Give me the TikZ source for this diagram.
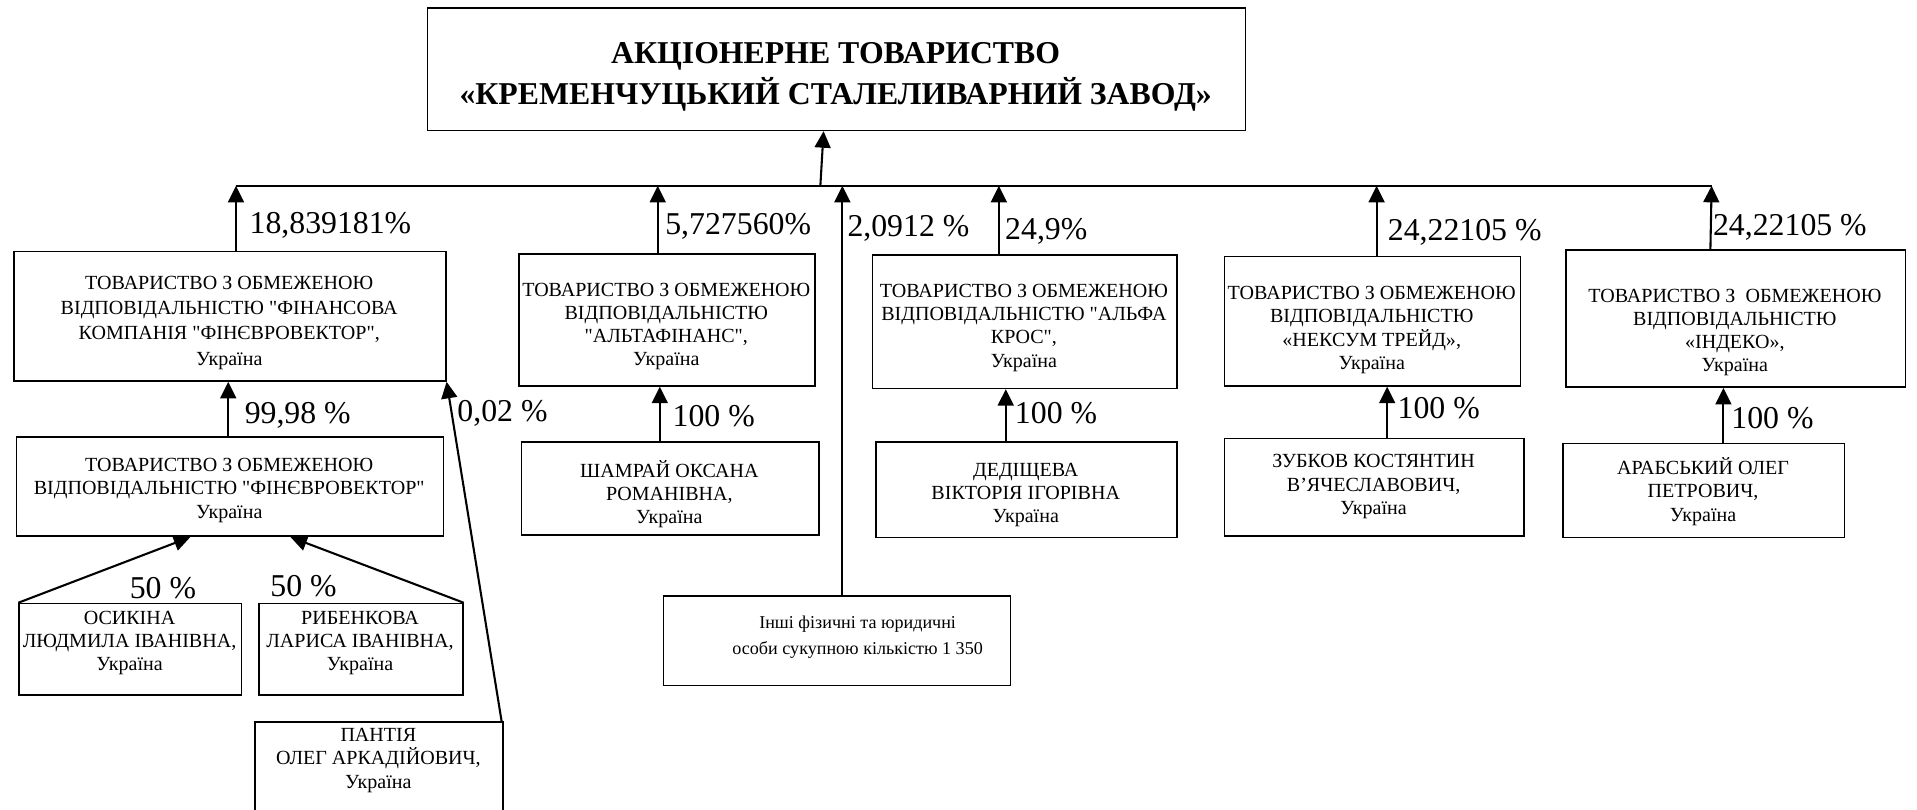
\documentclass[tikz,border=0pt]{standalone}
\usepackage{fontspec}
\setmainfont{Liberation Serif}[Ligatures=TeXOff]
\usetikzlibrary{arrows.meta}
\tikzset{
  box/.style={draw=black, line width=1.3pt, inner sep=0pt, anchor=north west},
  txt/.style={inner sep=0pt, align=center, font=\fontsize{16.4}{19}\selectfont},
  pct/.style={inner sep=0pt, anchor=base west, font=\fontsize{26}{28}\selectfont},
  arr/.style={draw=black, line width=1.7pt, -{Triangle[length=13.5pt,width=13pt]}},
  bus/.style={draw=black, line width=1.4pt}
}
\begin{document}
\begin{tikzpicture}[x=1pt,y=-1pt]
\clip (0,0) rectangle (1568,662);
% boxes
\node[box, minimum width=669pt, minimum height=100pt] (top) at (349,6) {};
\node[inner sep=0pt, align=center, font=\bfseries\fontsize{26}{33}\selectfont] (topt) at (683.5,63) {АКЦІОНЕРНЕ ТОВАРИСТВО\\«КРЕМЕНЧУЦЬКИЙ СТАЛЕЛИВАРНИЙ ЗАВОД»};

\node[box, minimum width=353pt, minimum height=106pt] (b1) at (11,205) {};
\node[txt, font=\fontsize{16.4}{20.7}\selectfont] (b1t) at (187.5,264) {ТОВАРИСТВО З ОБМЕЖЕНОЮ\\ВІДПОВІДАЛЬНІСТЮ "ФІНАНСОВА\\КОМПАНІЯ "ФІНЄВРОВЕКТОР",\\Україна};

\node[box, minimum width=242pt, minimum height=108pt] (b2) at (424,207) {};
\node[txt] (b2t) at (545,267) {ТОВАРИСТВО З ОБМЕЖЕНОЮ\\ВІДПОВІДАЛЬНІСТЮ\\"АЛЬТАФІНАНС",\\Україна};

\node[box, minimum width=249pt, minimum height=109pt] (b3) at (713,208) {};
\node[txt] (b3t) at (837.5,268) {ТОВАРИСТВО З ОБМЕЖЕНОЮ\\ВІДПОВІДАЛЬНІСТЮ "АЛЬФА\\КРОС",\\Україна};

\node[box, minimum width=242pt, minimum height=106pt] (b4) at (1001,209) {};
\node[txt] (b4t) at (1122,270) {ТОВАРИСТВО З ОБМЕЖЕНОЮ\\ВІДПОВІДАЛЬНІСТЮ\\«НЕКСУМ ТРЕЙД»,\\Україна};

\node[box, minimum width=278pt, minimum height=112pt] (b5) at (1280,204) {};
\node[txt] (b5t) at (1419,272) {ТОВАРИСТВО З \ ОБМЕЖЕНОЮ\\ВІДПОВІДАЛЬНІСТЮ\\«ІНДЕКО»,\\Україна};

\node[box, minimum width=349pt, minimum height=81pt] (c1) at (13,357) {};
\node[txt] (c1t) at (187.5,401) {ТОВАРИСТВО З ОБМЕЖЕНОЮ\\ВІДПОВІДАЛЬНІСТЮ "ФІНЄВРОВЕКТОР"\\Україна};

\node[box, minimum width=243pt, minimum height=76pt] (c2) at (426,361) {};
\node[txt] (c2t) at (547.5,404) {ШАМРАЙ ОКСАНА\\РОМАНІВНА,\\Україна};

\node[box, minimum width=246pt, minimum height=78pt] (c3) at (716,361) {};
\node[txt] (c3t) at (839,405) {ДЕДІЩЕВА\\ВІКТОРІЯ ІГОРІВНА\\Україна};

\node[box, minimum width=245pt, minimum height=80pt] (c4) at (1001,358) {};
\node[txt] (c4t) at (1123.5,398) {ЗУБКОВ КОСТЯНТИН\\В’ЯЧЕСЛАВОВИЧ,\\Україна};

\node[box, minimum width=230pt, minimum height=77pt] (c5) at (1278,362) {};
\node[txt] (c5t) at (1393,402) {АРАБСЬКИЙ ОЛЕГ\\ПЕТРОВИЧ,\\Україна};

\node[box, minimum width=182pt, minimum height=75pt] (os) at (15,493) {};
\node[txt] (ost) at (106,526) {ОСИКІНА\\ЛЮДМИЛА ІВАНІВНА,\\Україна};

\node[box, minimum width=167pt, minimum height=75pt] (ryb) at (211,493) {};
\node[txt] (rybt) at (294.5,526) {РИБЕНКОВА\\ЛАРИСА ІВАНІВНА,\\Україна};

\node[box, minimum width=203pt, minimum height=85pt] (pan) at (208,590) {};
\node[txt] (pant) at (309.5,622) {ПАНТІЯ\\ОЛЕГ АРКАДІЙОВИЧ,\\Україна};

\node[box, minimum width=284pt, minimum height=73pt] (oth) at (542,487) {};
\node[txt, font=\fontsize{14.8}{21}\selectfont] (otht) at (701.5,521) {Інші фізичні та юридичні\\особи сукупною кількістю 1 350};

% bus
\coordinate (jt) at (671,152);
\coordinate (j1) at (193,152);
\coordinate (j2) at (538,152);
\coordinate (j3) at (689,152);
\coordinate (j4) at (817,152);
\coordinate (j5) at (1126,152);
\coordinate (j6) at (1400,152);
\draw[bus] (j1) -- (j6);
\draw[arr] (jt) -- ([xshift=-10.5pt]top.south);
\draw[arr] (j1 |- b1.north) -- (j1);
\draw[arr] (j2 |- b2.north) -- (j2);
\draw[arr] (j3 |- oth.north) -- (j3);
\draw[arr] (j4 |- b3.north) -- (j4);
\draw[arr] (j5 |- b4.north) -- (j5);
\draw[arr] ([xshift=-1pt]j6 |- b5.north) -- (j6);

% second level
\draw[arr] ([xshift=-1.5pt]c1.north) -- ([xshift=-1.5pt]c1.north |- b1.south);
\draw[arr] ([xshift=-8.5pt]c2.north) -- ([xshift=-8.5pt]c2.north |- b2.south);
\draw[arr] ([xshift=-17pt]c3.north) -- ([xshift=-17pt]c3.north |- b3.south);
\draw[arr] ([xshift=10.5pt]c4.north) -- ([xshift=10.5pt]c4.north |- b4.south);
\draw[arr] ([xshift=16pt]c5.north) -- ([xshift=16pt]c5.north |- b5.south);
\draw[arr] (os.north west) -- ([xshift=-32.5pt]c1.south);
\draw[arr] (ryb.north east) -- ([xshift=49.5pt]c1.south);
\draw[arr] ([xshift=-2pt]pan.north east) -- (b1.south east);

% labels
\node[pct] (p1) at (204,191) {18,839181\%};
\node[pct] (p2) at (544,191.5) {5,727560\%};
\node[pct] (p3) at (693,193.5) {2,0912 \%};
\node[pct] (p4) at (822,195.5) {24,9\%};
\node[pct] (p5) at (1135,196.5) {24,22105 \%};
\node[pct] (p6) at (1401,192.5) {24,22105 \%};
\node[pct] (q1) at (200,346) {99,98 \%};
\node[pct] (q0) at (374,344.5) {0,02 \%};
\node[pct] (q2) at (550,348.5) {100 \%};
\node[pct] (q3) at (830,346.5) {100 \%};
\node[pct] (q4) at (1143,342.5) {100 \%};
\node[pct] (q5) at (1416,350.5) {100 \%};
\node[pct] (r1) at (106,489.5) {50 \%};
\node[pct] (r2) at (221,487.5) {50 \%};
\end{tikzpicture}
\end{document}
